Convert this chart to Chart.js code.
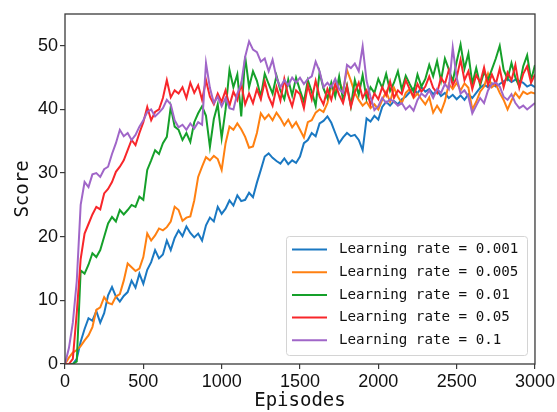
<!DOCTYPE html>
<html>
<head>
<meta charset="utf-8">
<script src="https://cdn.jsdelivr.net/npm/chart.js@4.4.1/dist/chart.umd.min.js"></script>
<style>
  html, body { margin: 0; padding: 0; background: #fff; }
  #wrap { width: 557px; height: 412px; }
</style>
</head>
<body>
<div id="wrap"><canvas id="chart1" width="557" height="412"></canvas></div>
<script>
// one value every 25 episodes
const step = 25;
const seriesLabels = ['Learning rate = 0.001', 'Learning rate = 0.005', 'Learning rate = 0.01', 'Learning rate = 0.05', 'Learning rate = 0.1'];
const xTicks = [0, 500, 1000, 1500, 2000, 2500, 3000];
const yTicks = [0, 10, 20, 30, 40, 50];

const lr0001 = [
  0, 0, 0, 0.8, 3.5, 5.5, 7.2, 6.8, 8.3, 6.5,
  8.0, 10.8, 12.1, 10.6, 9.8, 10.7, 11.3, 13.1, 12.0, 14.2,
  12.6, 14.8, 16.0, 17.9, 16.6, 17.2, 19.4, 17.9, 19.8, 21.0,
  20.1, 21.6, 20.6, 19.9, 20.5, 19.4, 21.8, 23.0, 22.4, 24.7,
  23.6, 24.4, 25.7, 24.9, 26.5, 25.6, 25.8, 26.9, 26.2, 28.5,
  30.5, 32.6, 33.1, 32.4, 31.9, 31.5, 32.3, 31.4, 32.0, 31.6,
  32.6, 34.7, 35.2, 36.3, 35.8, 37.8, 38.2, 38.9, 37.9, 36.3,
  34.7, 35.6, 36.3, 35.8, 36.0, 35.2, 33.6, 38.6, 38.1, 39.0,
  38.4, 40.4, 41.2, 40.6, 41.3, 40.8, 41.6, 42.0, 42.7, 43.3,
  42.5, 43.5, 42.8, 43.2, 42.4, 43.0, 42.1, 42.6, 41.8, 42.3,
  41.6, 42.2, 41.5, 42.4, 41.8, 42.6, 43.4, 43.9, 43.5, 44.1,
  43.6, 44.0, 44.4, 44.8, 44.3, 44.7, 44.5, 44.2, 43.6, 43.9,
  43.5
];
const lr0005 = [
  0, 1.0, 1.8, 2.2, 2.8, 3.7, 4.5, 5.8, 8.5, 8.9,
  10.5, 9.6, 9.4, 10.6, 11.0, 13.1, 15.8, 15.2, 14.6, 15.0,
  16.8, 20.5, 19.4, 20.2, 21.3, 21.0, 21.5, 22.4, 24.7, 24.2,
  22.5, 23.0, 23.2, 25.7, 29.4, 31.0, 32.5, 32.0, 32.7, 32.2,
  30.5, 34.7, 37.3, 36.8, 37.8, 36.9, 35.7, 34.0, 34.2, 36.3,
  39.4, 38.5, 39.2, 38.3, 39.5, 38.6, 37.5, 38.4, 37.2, 38.0,
  36.8, 35.6, 38.0, 38.3, 39.5, 40.0, 39.6, 41.0, 43.6, 42.8,
  44.3, 43.0, 46.2, 44.5, 42.6, 41.5, 40.6, 41.2, 40.2, 40.8,
  40.0, 41.5, 42.8, 41.2, 43.4, 42.0, 41.0, 42.6, 43.2, 41.8,
  42.5, 41.6, 40.8, 41.9, 39.5, 40.6, 39.6, 41.3, 44.0, 43.2,
  44.2, 43.0, 44.1, 43.4, 40.0, 41.2, 42.8, 43.6, 45.6, 43.5,
  44.0, 42.6, 41.5, 40.0, 41.4, 42.6, 41.8, 42.8, 42.4, 42.7,
  42.5
];
const lr001 = [
  0, 0, 0, 0.4, 14.7, 14.2, 15.6, 17.4, 16.8, 17.9,
  20.0, 22.1, 23.1, 22.4, 24.2, 23.5, 24.2, 25.0, 24.7, 26.3,
  25.8, 30.5, 32.0, 33.6, 33.0, 34.7, 35.7, 40.4, 37.3, 36.8,
  35.2, 36.3, 34.9, 38.0, 39.4, 40.5, 39.0, 34.1, 38.5, 40.8,
  35.5, 40.0, 46.2, 43.5, 45.5, 38.9, 48.3, 43.5, 46.0, 44.5,
  42.0, 45.6, 44.0, 42.5, 45.3, 43.0, 41.6, 44.7, 42.2, 45.0,
  43.0, 41.2, 44.6, 42.8, 40.6, 45.8, 43.3, 41.8, 44.2, 42.0,
  45.2, 41.5, 43.8, 40.5, 44.6, 42.3, 45.4, 41.7, 43.5, 42.6,
  44.8, 43.4, 45.6, 42.9, 44.2, 46.0, 43.1, 45.3, 44.0, 42.8,
  45.5, 43.6, 44.8, 47.0, 45.2, 47.6, 44.5, 48.0, 46.3, 44.4,
  47.5, 50.2, 46.4, 48.8, 44.0, 46.5, 43.8, 45.9, 44.6, 46.3,
  48.0, 50.0, 46.2, 44.8, 47.3, 45.0, 43.6, 46.8, 48.5, 44.6,
  47.0
];
const lr005 = [
  0, 0, 0.8, 8.0, 16.5, 20.5, 22.0, 23.5, 24.7, 24.3,
  26.8, 27.5, 28.6, 30.2, 31.0, 32.0, 33.6, 35.2, 34.4, 36.3,
  38.0, 40.4, 38.3, 39.6, 40.0, 41.8, 44.6, 41.9, 43.0, 42.5,
  43.5, 41.8, 44.2, 42.6, 43.8, 41.5, 44.6, 42.0, 40.8, 42.5,
  41.2, 43.0, 40.6, 42.8, 41.5, 44.0, 40.8, 42.5, 41.0, 43.2,
  41.6, 44.4, 42.0, 40.6, 43.5, 41.4, 44.8, 42.2, 40.5, 43.0,
  42.4, 40.2, 43.8, 41.6, 44.5, 42.0, 40.8, 43.2, 41.5, 44.0,
  42.3, 41.0, 43.6, 40.4, 42.7, 44.2, 41.8, 43.0, 40.8, 42.5,
  41.6, 43.5, 42.2, 44.4, 41.8, 43.0, 42.4, 44.6, 43.2, 42.0,
  44.0, 42.8, 43.6, 45.2, 43.4, 42.6, 45.0, 44.0, 46.2, 43.8,
  45.0, 47.8, 44.6, 46.0, 43.2, 45.4, 44.2, 46.6, 43.8, 45.5,
  44.0, 46.4, 43.5, 45.8, 44.6, 47.0, 43.4, 45.6, 46.8, 44.2,
  45.5
];
const lr01 = [
  0, 2.5, 6.5, 13.0, 25.0, 28.6, 27.8, 29.8, 30.0, 29.4,
  30.6, 31.0, 33.0, 34.7, 36.8, 35.8, 36.3, 35.2, 36.0, 37.3,
  38.3, 39.6, 40.0, 38.9, 39.5, 40.2, 41.5, 40.8, 38.3, 37.2,
  37.6, 36.8, 37.8, 37.0, 38.0, 37.6, 47.3, 43.4, 41.0, 42.0,
  40.5, 41.8, 40.2, 40.0, 42.5, 44.0, 48.3, 50.7, 49.4, 49.0,
  47.5, 48.0, 46.0, 47.8, 45.0, 43.5, 44.6, 43.8, 45.0, 44.2,
  45.0, 44.0, 44.8, 45.2, 47.5, 46.0, 43.5, 44.2, 43.5, 44.8,
  43.2, 42.6, 47.0, 46.5, 47.2, 46.0, 49.9, 44.5, 42.0, 39.9,
  40.5, 41.8, 41.0, 41.6, 41.2, 40.6, 41.0, 40.0, 40.6, 39.8,
  41.5, 42.5, 42.0, 43.0, 41.8, 43.2, 42.6, 44.0, 43.2, 49.7,
  45.0, 42.5, 43.0, 42.0, 39.4, 40.6, 41.8, 41.0, 43.0, 44.0,
  44.2, 43.6, 42.0, 41.5, 42.4, 41.0, 40.2, 40.6, 40.0, 40.5,
  41.0
];

const seriesValues = [lr0001, lr0005, lr001, lr005, lr01];
const colors = ['#1a78c2', '#ff8011', '#15a02a', '#f8262a', '#a066c8'];

const toPoints = vals => vals.map((v, i) => ({ x: i * step, y: v }));

// frame + legend drawn on top, like the matplotlib figure
const framePlugin = {
  id: 'frame',
  afterDatasetsDraw(chart) {
    const a = chart.chartArea;
    const c = chart.ctx;
    c.save();
    c.strokeStyle = '#3a3a3a';
    c.lineWidth = 1.3;
    c.strokeRect(a.left, a.top, a.right - a.left, a.bottom - a.top);
    c.restore();
  },
  afterDraw(chart) {
    const c = chart.ctx;
    const x0 = 286, y0 = 236, w = 241, h = 119;
    c.save();
    c.fillStyle = 'rgba(255,255,255,0.85)';
    c.strokeStyle = '#d4d4d4';
    c.lineWidth = 1;
    c.beginPath();
    c.roundRect(x0 + 0.5, y0 + 0.5, w, h, 3);
    c.fill();
    c.stroke();
    c.font = '14.2px "DejaVu Sans Mono"';
    c.textBaseline = 'middle';
    chart.data.datasets.forEach((ds, i) => {
      const y = 249.5 + i * 22.7;
      c.strokeStyle = ds.borderColor;
      c.lineWidth = 2;
      c.beginPath();
      c.moveTo(292, y);
      c.lineTo(327, y);
      c.stroke();
      c.fillStyle = '#111';
      c.fillText(ds.label, 339, y);
    });
    c.restore();
  }
};

const ctx = document.getElementById('chart1');
const chart = new Chart(ctx, {
  type: 'line',
  data: {
    datasets: seriesValues.map((vals, i) => ({
      label: seriesLabels[i],
      data: toPoints(vals),
      borderColor: colors[i],
      backgroundColor: colors[i],
      borderWidth: 2,
      pointRadius: 0,
      tension: 0,
      order: seriesValues.length - i
    }))
  },
  options: {
    responsive: false,
    animation: false,
    events: [],
    layout: { padding: { left: 0, top: 14, right: 21, bottom: 0 } },
    plugins: { legend: { display: false }, tooltip: { enabled: false } },
    scales: {
      x: {
        type: 'linear',
        min: 0,
        max: 3000,
        afterFit(scale) { scale.height = 48; },
        afterBuildTicks(scale) { scale.ticks = xTicks.map(v => ({ value: v })); },
        grid: { drawOnChartArea: false, drawTicks: true, tickLength: 5, color: '#3a3a3a', lineWidth: 1.2 },
        border: { display: false },
        ticks: { color: '#111', padding: 2, maxRotation: 0, callback: v => String(v), font: { family: 'Liberation Sans', size: 18 } },
        title: { display: true, text: 'Episodes', color: '#111', padding: { top: 0, bottom: 0 }, font: { family: 'DejaVu Sans Mono', size: 19 } }
      },
      y: {
        min: 0,
        max: 55,
        afterFit(scale) { scale.width = 65; },
        afterBuildTicks(scale) { scale.ticks = yTicks.map(v => ({ value: v })); },
        grid: { drawOnChartArea: false, drawTicks: true, tickLength: 5, color: '#3a3a3a', lineWidth: 1.2 },
        border: { display: false },
        ticks: { color: '#111', padding: 2, callback: v => String(v), font: { family: 'Liberation Sans', size: 18 } },
        title: { display: true, text: 'Score', color: '#111', padding: { top: 12, bottom: 0 }, font: { family: 'DejaVu Sans Mono', size: 19 } }
      }
    }
  },
  plugins: [framePlugin]
});
</script>
</body>
</html>
